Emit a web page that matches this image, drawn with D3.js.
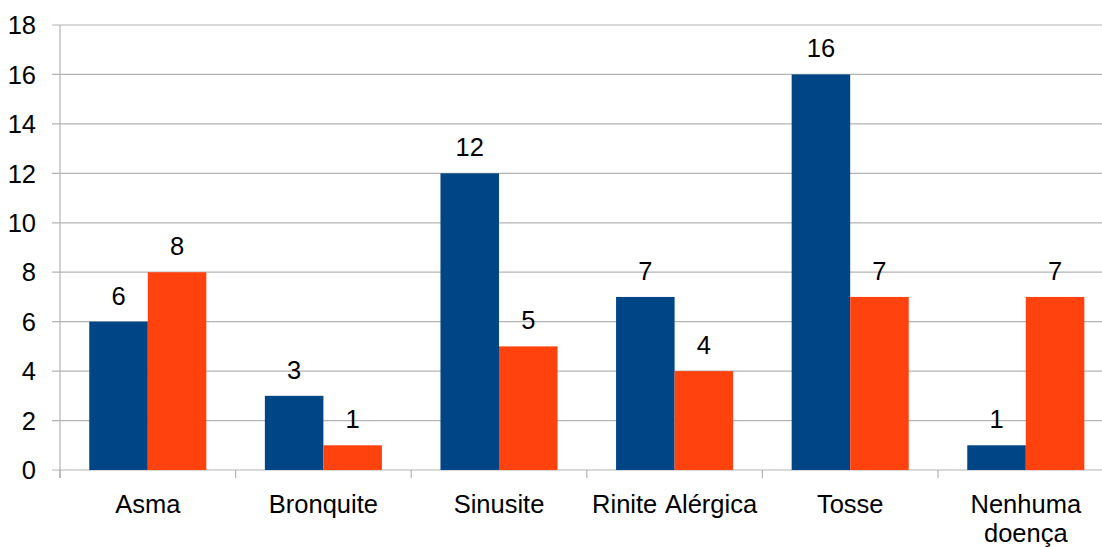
<!doctype html>
<html lang="en">
    <head>
        <meta charset="utf-8">
        <title>Doenças</title>
        <style>
            body { margin: 0; background: #fff; }
            svg { display: block; font-family: "Liberation Sans", Arial, sans-serif; }
        </style>
    </head>
    <body>
        <svg></svg>
        <script src="https://d3js.org/d3.v7.min.js"></script>
        <script>
            //Chart data
            var categories = ["Asma", "Bronquite", "Sinusite", "Rinite Alérgica", "Tosse", "Nenhuma doença"];
            var seriesA = [6, 3, 12, 7, 16, 1];
            var seriesB = [8, 1, 5, 4, 7, 7];
            var yTicks = [0, 2, 4, 6, 8, 10, 12, 14, 16, 18];
            var colors = ["#004586", "#ff420e"];

            //Container size and plot area
            var svgWidth = 1102;
            var svgHeight = 547;
            var plotLeft = 60, plotTop = 25, plotBottom = 470;
            var bandWidth = 175.6;
            var fontSize = 25.5;

            var svg = d3.select("svg")
                .attr("width", svgWidth)
                .attr("height", svgHeight);

            var x = d3.scaleBand()
                .domain(categories)
                .range([plotLeft, plotLeft + bandWidth * categories.length]);

            //inner scale for the two bars of each group
            var xSub = d3.scaleBand()
                .domain([0, 1])
                .range([0, x.bandwidth()])
                .paddingOuter(0.5);

            var y = d3.scaleLinear()
                .domain([0, 18])
                .range([plotBottom, plotTop]);

            //Grid lines + y ticks
            svg.append("g").selectAll("line")
                .data(yTicks)
                .enter()
                .append("line")
                .attr("x1", plotLeft - 8)
                .attr("x2", svgWidth + 20)
                .attr("y1", function(d) { return y(d); })
                .attr("y2", function(d) { return y(d); })
                .attr("stroke", "#b3b3b3")
                .attr("stroke-width", 1.2);

            svg.append("g").selectAll("text")
                .data(yTicks)
                .enter()
                .append("text")
                .attr("x", 36)
                .attr("y", function(d) { return y(d); })
                .attr("dy", "0.36em")
                .attr("text-anchor", "end")
                .attr("font-size", fontSize)
                .attr("fill", "#000")
                .text(function(d) { return d; });

            //y axis line
            svg.append("line")
                .attr("x1", plotLeft).attr("x2", plotLeft)
                .attr("y1", plotTop).attr("y2", plotBottom + 8)
                .attr("stroke", "#b3b3b3")
                .attr("stroke-width", 1.2);

            //category ticks under the axis
            svg.append("g").selectAll("line")
                .data(categories)
                .enter()
                .append("line")
                .attr("x1", function(d) { return x(d); })
                .attr("x2", function(d) { return x(d); })
                .attr("y1", plotBottom)
                .attr("y2", plotBottom + 8)
                .attr("stroke", "#b3b3b3")
                .attr("stroke-width", 1.2);

            //Bars
            var groups = svg.append("g").selectAll("g")
                .data(categories)
                .enter()
                .append("g")
                .attr("transform", function(d) { return "translate(" + x(d) + ",0)"; });

            var bars = groups.selectAll("rect")
                .data(function(d, i) { return [seriesA[i], seriesB[i]]; })
                .enter();

            bars.append("rect")
                .attr("x", function(d, j) { return xSub(j); })
                .attr("width", xSub.bandwidth())
                .attr("y", function(d) { return y(d); })
                .attr("height", function(d) { return plotBottom - y(d); })
                .attr("fill", function(d, j) { return colors[j]; });

            //Value labels
            bars.append("text")
                .attr("x", function(d, j) { return xSub(j) + xSub.bandwidth() / 2; })
                .attr("y", function(d) { return y(d) - 17; })
                .attr("text-anchor", "middle")
                .attr("font-size", fontSize)
                .attr("fill", "#000")
                .text(function(d) { return d; });

            //Category labels (wrap "Nenhuma doença")
            svg.append("g").selectAll("text")
                .data(categories)
                .enter()
                .append("text")
                .attr("x", function(d) { return x(d) + x.bandwidth() / 2; })
                .attr("y", 513)
                .attr("text-anchor", "middle")
                .attr("font-size", fontSize)
                .attr("word-spacing", 2)
                .attr("fill", "#000")
                .each(function(d) {
                    var t = d3.select(this);
                    if (d === "Nenhuma doença") {
                        var parts = d.split(" ");
                        t.append("tspan").attr("x", t.attr("x")).text(parts[0]);
                        t.append("tspan").attr("x", t.attr("x")).attr("dy", 29).text(parts[1]);
                    } else {
                        t.text(d);
                    }
                });
        </script>
    </body>
</html>
